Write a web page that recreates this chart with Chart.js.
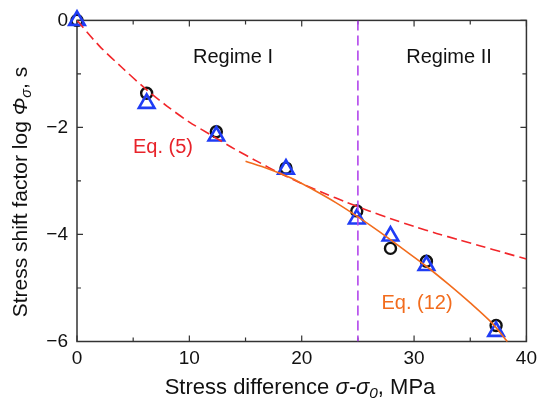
<!DOCTYPE html>
<html lang="en">
<head>
<meta charset="UTF-8">
<title>Stress shift factor</title>
<script src="https://cdn.jsdelivr.net/npm/chart.js"></script>
<style>
  html, body { margin: 0; padding: 0; background: #fff; }
  #wrap { width: 543px; height: 402px; }
</style>
</head>
<body>
<div id="wrap"><canvas id="chart" width="543" height="402"></canvas></div>
<script>
// measured points
const stressX   = [0, 6.2, 12.4, 18.6, 24.9, 27.9, 31.1, 37.3];
const circleY   = [0, -1.36, -2.08, -2.76, -3.56, -4.26, -4.50, -5.70];
const triangleY = [0, -1.55, -2.16, -2.78, -3.71, -4.03, -4.58, -5.81];

// Eq. (5) dashed curve
const eq5X = [0, 2, 4, 6, 8, 10, 12, 14, 16, 18, 20, 22, 24, 26, 28, 30, 32, 34, 36, 38, 40];
const eq5Y = [0, -0.48, -0.88, -1.26, -1.6, -1.9, -2.15, -2.4, -2.63, -2.85, -3.05, -3.23, -3.4, -3.56, -3.71, -3.85, -3.98, -4.1, -4.22, -4.34, -4.46];

// Eq. (12) solid curve
const eq12X = [15, 17, 19, 21, 23, 25, 27, 29, 31, 33, 35, 37, 38.3];
const eq12Y = [-2.63, -2.77, -2.94, -3.16, -3.4, -3.67, -3.96, -4.27, -4.58, -4.92, -5.28, -5.67, -6.0];

const regimeBoundary = 25;
const xTicks = [0, 10, 20, 30, 40];
const yTicks = [0, -2, -4, -6];

const FONT = '"Liberation Sans", Arial, Helvetica, sans-serif';

const pts = (xs, ys) => xs.map((x, i) => ({ x: x, y: ys[i] }));

// draw text made of runs (normal / italic / subscript), centred on 0,0
function drawRuns(ctx, runs, size) {
  const parts = runs.map(r => {
    const s = r.sub ? size * 0.7 : size;
    const f = (r.italic ? 'italic ' : '') + s + 'px ' + FONT;
    ctx.font = f;
    return { t: r.t, f: f, w: ctx.measureText(r.t).width, dy: r.sub ? size * 0.28 : 0 };
  });
  const total = parts.reduce((a, p) => a + p.w, 0);
  let x = -total / 2;
  ctx.textBaseline = 'middle';
  ctx.textAlign = 'left';
  parts.forEach(p => {
    ctx.font = p.f;
    ctx.fillText(p.t, x, p.dy);
    x += p.w;
  });
}

const decor = {
  id: 'decor',
  beforeDatasetsDraw(chart) {
    const { ctx, chartArea: a, scales: { x, y } } = chart;
    ctx.save();
    ctx.strokeStyle = '#333';
    ctx.lineWidth = 1.5;
    ctx.strokeRect(a.left, a.top, a.right - a.left, a.bottom - a.top);
    ctx.lineWidth = 1.2;
    ctx.beginPath();
    for (let v = 0; v <= 40; v += 5) {
      const px = x.getPixelForValue(v);
      const len = v % 10 === 0 ? 6 : 4;
      ctx.moveTo(px, a.bottom); ctx.lineTo(px, a.bottom - len);
      ctx.moveTo(px, a.top); ctx.lineTo(px, a.top + len);
    }
    for (let v = -6; v <= 0; v += 1) {
      const py = y.getPixelForValue(v);
      const len = v % 2 === 0 ? 6 : 4;
      ctx.moveTo(a.left, py); ctx.lineTo(a.left + len, py);
      ctx.moveTo(a.right, py); ctx.lineTo(a.right - len, py);
    }
    ctx.stroke();

    // labels inside the plot
    ctx.font = '20px ' + FONT;
    ctx.textAlign = 'center';
    ctx.textBaseline = 'middle';
    ctx.fillStyle = '#111';
    ctx.fillText('Regime I', 233, 57);
    ctx.fillText('Regime II', 449, 57);
    ctx.fillStyle = '#e8232a';
    ctx.fillText('Eq. (5)', 163, 147);
    ctx.fillStyle = '#f26c1d';
    ctx.fillText('Eq. (12)', 417, 303);

    // axis titles
    ctx.fillStyle = '#111';
    ctx.save();
    ctx.translate(300, 388);
    drawRuns(ctx, [
      { t: 'Stress difference ' },
      { t: '\u03c3-\u03c3', italic: true },
      { t: '0', italic: true, sub: true },
      { t: ', MPa' }
    ], 22);
    ctx.restore();

    ctx.save();
    ctx.translate(21, 192);
    ctx.rotate(-Math.PI / 2);
    drawRuns(ctx, [
      { t: 'Stress shift factor log ' },
      { t: '\u03a6', italic: true },
      { t: '\u03c3', italic: true, sub: true },
      { t: ', s' }
    ], 21);
    ctx.restore();
    ctx.restore();
  }
};

new Chart(document.getElementById('chart'), {
  type: 'scatter',
  data: {
    datasets: [
      {
        label: 'Eq. (12)',
        data: pts(eq12X, eq12Y),
        showLine: true,
        borderColor: '#f26c1d',
        borderWidth: 1.6,
        pointRadius: 0,
        tension: 0.3,
        clip: false
      },
      {
        label: 'Eq. (5)',
        data: pts(eq5X, eq5Y),
        showLine: true,
        borderColor: '#f2262a',
        borderWidth: 1.6,
        borderDash: [10, 5],
        pointRadius: 0,
        tension: 0.3
      },
      {
        label: 'boundary',
        data: [{ x: regimeBoundary, y: 0 }, { x: regimeBoundary, y: -6 }],
        showLine: true,
        borderColor: '#b246ec',
        borderWidth: 1.6,
        borderDash: [10, 5],
        pointRadius: 0
      },
      {
        label: 'triangles',
        data: pts(stressX, triangleY),
        pointStyle: 'triangle',
        pointRadius: 9,
        pointBorderWidth: 2.6,
        pointBorderColor: '#1f3cf5',
        pointBackgroundColor: 'rgba(0,0,0,0)',
        clip: false
      },
      {
        label: 'circles',
        data: pts(stressX, circleY),
        pointStyle: 'circle',
        pointRadius: 5.5,
        pointBorderWidth: 2.4,
        pointBorderColor: '#111',
        pointBackgroundColor: 'rgba(0,0,0,0)',
        clip: false
      }
    ]
  },
  options: {
    responsive: false,
    animation: false,
    events: [],
    layout: { padding: { top: 16, right: 11, left: 0, bottom: 0 } },
    plugins: { legend: { display: false }, tooltip: { enabled: false } },
    scales: {
      x: {
        type: 'linear',
        min: 0, max: 40,
        afterBuildTicks: s => { s.ticks = xTicks.map(v => ({ value: v })); },
        afterFit: s => { s.height = 60.5; },
        grid: { display: false, drawTicks: false },
        border: { display: false },
        ticks: { color: '#111', font: { family: FONT, size: 19 }, padding: 6 }
      },
      y: {
        type: 'linear',
        min: -6, max: 0,
        afterBuildTicks: s => { s.ticks = yTicks.map(v => ({ value: v })); },
        afterFit: s => { s.width = 77; },
        grid: { display: false, drawTicks: false },
        border: { display: false },
        ticks: {
          color: '#111',
          font: { family: FONT, size: 19 },
          padding: 9,
          callback: v => String(v).replace('-', '\u2212')
        }
      }
    }
  },
  plugins: [decor]
});
</script>
</body>
</html>
